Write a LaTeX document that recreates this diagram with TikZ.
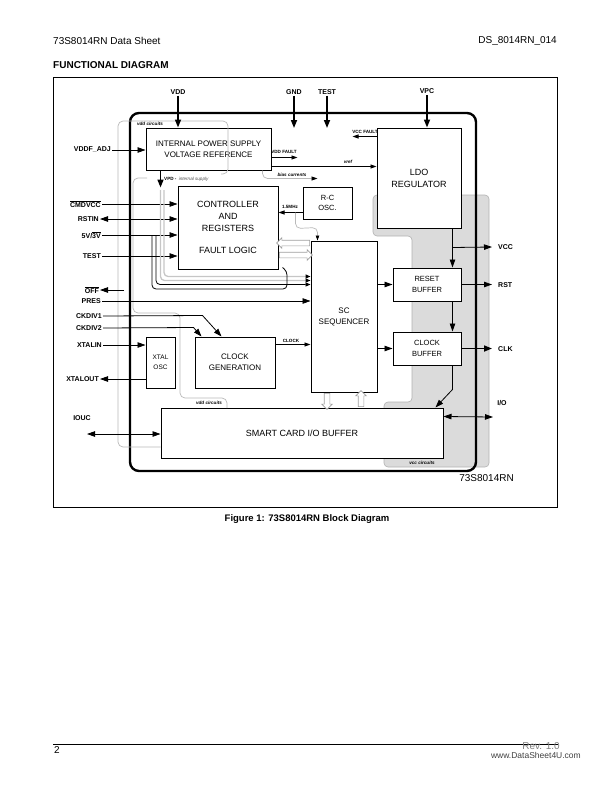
\documentclass[tikz,border=0pt]{standalone}
\usepackage{fontspec}
\setmainfont{Liberation Sans}
\usetikzlibrary{arrows.meta, shapes.arrows, calc}

\begin{document}
\begin{tikzpicture}[
  x=1pt, y=-1pt,
  every node/.append style={inner sep=0pt},
  block/.style={draw, line width=1pt, fill=white, align=center},
  pinlbl/.style={font=\fontsize{7}{8}\selectfont\bfseries, inner sep=1pt},
  tag/.style={font=\fontsize{4.6}{5}\selectfont\bfseries},
  tagit/.style={font=\fontsize{4.6}{5}\selectfont\bfseries\itshape},
  wire/.style={line width=0.8pt},
  sig/.style={wire, -{Triangle[length=8pt,width=5.5pt]}},
  ssig/.style={wire, -{Triangle[length=6pt,width=4pt]}},
  bsig/.style={line width=1.6pt, -{Triangle[length=8pt,width=6pt]}},
  bidir/.style={wire, {Triangle[length=8pt,width=5.5pt]}-{Triangle[length=8pt,width=5.5pt]}},
  halo/.style={draw=gray!55, line width=0.7pt, rounded corners=5pt},
  feed/.style={gray!45, line width=1.3pt, rounded corners=4pt},
  hollow/.style={single arrow, draw=gray!75, fill=white, line width=0.6pt,
    inner sep=2.5pt, single arrow head extend=2.5pt}
]
\useasboundingbox (0,0) rectangle (612,792);

% page
\node[anchor=west, font=\fontsize{10}{11}\selectfont] (hdl) at (53,41) {73S8014RN Data Sheet};
\node[anchor=east, font=\fontsize{10}{11}\selectfont] (hdr) at (557,41) {DS\_8014RN\_014};
\node[anchor=west, font=\fontsize{10}{11}\selectfont\bfseries] (ttl) at (53,65) {FUNCTIONAL DIAGRAM};
\draw[line width=0.8pt] (53,77) rectangle (557,507);

% vcc domain and chip outline
\draw[fill=gray!28, draw=gray!60, line width=0.6pt, rounded corners=4pt]
  (373,195) -- (489,195) -- (489,467) -- (384,467) -- (384,402) -- (412,402) -- (412,236) -- (373,236) -- cycle;
\node[tagit] (vcccirc) at (422,463) {vcc circuits};
\draw[line width=2.4pt, rounded corners=9pt] (130,113) rectangle (476,471);

% blocks
\node[block, minimum width=125pt, minimum height=42pt, font=\fontsize{8}{11}\selectfont] (ips) at (208.5,149) {INTERNAL POWER SUPPLY\\VOLTAGE REFERENCE};
\node[block, minimum width=100pt, minimum height=83pt, font=\fontsize{9}{12}\selectfont] (ctrl) at (228,227.5) {CONTROLLER\\AND\\REGISTERS\\[10pt]FAULT LOGIC};
\node[block, minimum width=49pt, minimum height=32pt, font=\fontsize{7.5}{10.5}\selectfont] (rc) at (327.5,203) {R-C\\OSC.};
\node[block, minimum width=84pt, minimum height=100pt, font=\fontsize{9}{12}\selectfont] (ldo) at (419,178) {LDO\\REGULATOR};
\node[block, minimum width=66pt, minimum height=151pt, font=\fontsize{8}{11}\selectfont] (seq) at (344,316.5) {SC\\SEQUENCER};
\node[block, minimum width=68pt, minimum height=33pt, font=\fontsize{7.5}{10.5}\selectfont] (rstbuf) at (427,284.5) {RESET\\BUFFER};
\node[block, minimum width=68pt, minimum height=33pt, font=\fontsize{7.5}{10.5}\selectfont] (clkbuf) at (427,348.5) {CLOCK\\BUFFER};
\node[block, minimum width=29pt, minimum height=51pt, font=\fontsize{6.5}{9.5}\selectfont] (xtal) at (160.5,362.5) {XTAL\\OSC};
\node[block, minimum width=80pt, minimum height=51pt, font=\fontsize{8}{11}\selectfont] (clkgen) at (235,362.5) {CLOCK\\GENERATION};
\node[block, minimum width=282pt, minimum height=50pt, font=\fontsize{9}{11}\selectfont] (iobuf) at (302,433) {SMART CARD I/O BUFFER};

% pins
\node[pinlbl, anchor=south] (vdd) at (178,95.5) {VDD};
\node[pinlbl, anchor=south] (gnd) at (294,95.5) {GND};
\node[pinlbl, anchor=south] (testtop) at (327,95.5) {TEST};
\node[pinlbl, anchor=south] (vpc) at (427,95) {VPC};
\node[pinlbl, anchor=east] (vddfadj) at (112,150) {VDDF\_ADJ};
\node[pinlbl, anchor=east] (cmdvcc) at (102,204) {$\overline{\hbox{CMDVCC}}$};
\node[pinlbl, anchor=east] (rstin) at (100,219) {RSTIN};
\node[pinlbl, anchor=east] (fivev) at (102,235) {5V/$\overline{\hbox{3V}}$};
\node[pinlbl, anchor=east] (testin) at (102,256) {TEST};
\node[pinlbl, anchor=east] (offout) at (100,290) {$\overline{\hbox{OFF}}$};
\node[pinlbl, anchor=east] (pres) at (102,301) {PRES};
\node[pinlbl, anchor=east] (ckdiv1) at (103,316) {CKDIV1};
\node[pinlbl, anchor=east] (ckdiv2) at (103,328) {CKDIV2};
\node[pinlbl, anchor=east] (xtalin) at (103,345) {XTALIN};
\node[pinlbl, anchor=east] (xtalout) at (100,379) {XTALOUT};
\node[pinlbl] (iouc) at (82,418) {IOUC};
\node[pinlbl, anchor=west] (vcc) at (497,247) {VCC};
\node[pinlbl, anchor=west] (rst) at (497,285) {RST};
\node[pinlbl, anchor=west] (clk) at (497,349) {CLK};
\node[pinlbl] (io) at (502,403) {I/O};

\coordinate (gndend) at (294,128);
\coordinate (testend) at (327,128);
\coordinate (offsrc) at (124,290);
\coordinate (ioucend) at (87,434);
\coordinate (vccend) at (492,247);
\coordinate (rstend) at (492,284.5);
\coordinate (clkend) at (492,348.5);
\coordinate (ioend) at (493,417);

% supply outlines
\draw[halo] (iobuf.west |- 0,447) -- (118,447) -- (118,121) -- (228,121) -- (228,174) -- (221,174);
\node[tagit] (vddcirc1) at (150,124) {vdd circuits};
\draw[halo] (147,178) -- (133,178) -- (133,313) -- (180,313) -- (180,398) -- (227,398) -- (227,408);
\node[tagit] (vddcirc2) at (209,402.5) {vdd circuits};

% top inputs
\draw[bsig] (vdd.south) -- (vdd.south |- ips.north);
\draw[bsig] (gnd.south) -- (gndend);
\draw[bsig] (testtop.south) -- (testend);
\draw[bsig] (vpc.south) -- (vpc.south |- ldo.north);

% left side
\draw[sig] (vddfadj.east) -- (vddfadj.east -| ips.west);
\draw[sig] (cmdvcc.east) -- (cmdvcc.east -| ctrl.west);
\draw[bidir] (rstin.east) -- (rstin.east -| ctrl.west);
\draw[sig] (fivev.east) -- (fivev.east -| ctrl.west);
\draw[sig] (testin.east) -- (testin.east -| ctrl.west);
\draw[sig] (offsrc) -- (offout.east);
\draw[sig] (pres.east) -- (pres.east -| seq.west);
\draw[sig] (ckdiv1.east) -- ($(clkgen.north west)+(8,-21)$) -- ($(clkgen.north west)+(27,0)$);
\draw[sig] (ckdiv2.east) -- ($(clkgen.north west)+(-1,-9)$) -- ($(clkgen.north west)+(7,0)$);
\draw[sig] (xtalin.east) -- (xtalin.east -| xtal.west);
\draw[sig] (xtalout.east -| xtal.west) -- (xtalout.east);
\draw[bidir] (ioucend) -- (ioucend -| iobuf.west);

% internal supply
\draw[bsig] ($(ips.south west)+(15,0)$) -- ++(0,17);
\node[anchor=west, font=\fontsize{4.6}{5}\selectfont] (vpdlbl) at (164,179.5) {\bfseries VPD -\enspace{\mdseries\itshape\color{black!70}internal supply}};
\coordinate (vddfault) at ($(ips.north east)+(26,30)$);
\draw[ssig] (vddfault -| ips.east) -- (vddfault);
\node[tag] (lvddfault) at (284,151.5) {VDD FAULT};
\coordinate (vrefsrc) at ($(ips.south east)+(0,-4)$);
\draw[ssig] (vrefsrc) -- (vrefsrc -| ldo.west);
\node[tagit] (lvref) at (348,162) {vref};
\coordinate (vccfault) at ($(ldo.north west)+(-24,9)$);
\draw[ssig] (vccfault -| ldo.west) -- (vccfault);
\node[tag] (lvccfault) at (365,131.5) {VCC FAULT};
\draw[halo, -{Triangle[length=6pt,width=4pt,color=black]}] ($(ips.south east)+(-9,0)$) -- ++(0,8) -- ++(55,0);
\node[tagit] (lbias) at (292,174.5) {bias currents};

% oscillator
\coordinate (rcout) at ($(rc.south west)+(0,-7)$);
\draw[ssig] (rcout) -- (rcout -| ctrl.east);
\node[tag] (lmhz) at (290,207) {1.5MHz};
\draw[halo, -{Triangle[length=5pt,width=3.5pt,color=black]}] ($(rcout)+(-7,0)$) -- ++(0,16) -- ($(seq.north west)+(7,-13)$) -- ($(seq.north west)+(7,0)$);

% controller to sequencer
\node[hollow, minimum height=33pt, shape border rotate=180] (hback) at (294.5,243) {};
\node[hollow, minimum height=33pt] (hfwd) at (294.5,255) {};
\draw[feed, -{Triangle[length=5pt,width=4pt,color=black]}] (164,190) |- ($(seq.north west)+(0,36)$);
\draw[feed, -{Triangle[length=5pt,width=4pt,color=black]}] (160.5,190) |- ($(seq.north west)+(0,40)$);
\draw[wire, rounded corners=4pt, -{Triangle[length=5pt,width=4pt]}] (156,235) |- ($(seq.north west)+(0,44)$);
\draw[wire, rounded corners=4pt] (152,235) |- (287,289) -- (287,271) -- ($(ctrl.south east)+(4,-2)$);

% sequencer outputs
\draw[sig] (seq.east |- rstbuf.west) -- (rstbuf.west);
\draw[sig] (seq.east |- clkbuf.west) -- (clkbuf.west);
\coordinate (ckout) at ($(clkgen.north east)+(0,8)$);
\draw[ssig] (ckout) -- (ckout -| seq.west);
\node[tag] (lclock) at (291,341) {CLOCK};
\node[hollow, minimum height=16pt, shape border rotate=270] (hdown) at (327,400) {};
\node[hollow, minimum height=16pt, shape border rotate=90] (hup) at (361,400) {};

% card side
\coordinate (ldoout) at ($(ldo.south east)+(-9,0)$);
\draw[sig] (ldoout) -- (ldoout |- rstbuf.north);
\coordinate (vccj) at ($(ldoout)+(0,19)$);
\draw[sig] (vccj) -- (vccend);
\draw[sig] (rstbuf.south -| ldoout) -- (clkbuf.north -| ldoout);
\draw[sig] (rstbuf.east) -- (rstend);
\draw[bsig] (clkbuf.east) -- (clkend);
\draw[sig] (clkbuf.south -| ldoout) -- ++(0,24) -- ($(iobuf.north east)+(-8,0)$);
\draw[bidir] ($(iobuf.north east)+(0,9)$) -- (ioend);

\node[anchor=east, font=\fontsize{10}{11}\selectfont] (partno) at (514,478) {73S8014RN};
\node[font=\fontsize{9.5}{11}\selectfont\bfseries] (cap) at (307,519) {Figure 1: 73S8014RN Block Diagram};

% footer
\draw[line width=1pt] (53,744) -- (558,744);
\node[anchor=west, font=\fontsize{10}{11}\selectfont] (pgno) at (54,750) {2};
\node[anchor=east, font=\fontsize{10}{11}\selectfont, text=gray] (rev) at (560,746) {Rev. 1.0};
\node[anchor=east, font=\fontsize{8.5}{9}\selectfont, text=black!75] (wm) at (581,755) {www.DataSheet4U.com};
\end{tikzpicture}
\end{document}
